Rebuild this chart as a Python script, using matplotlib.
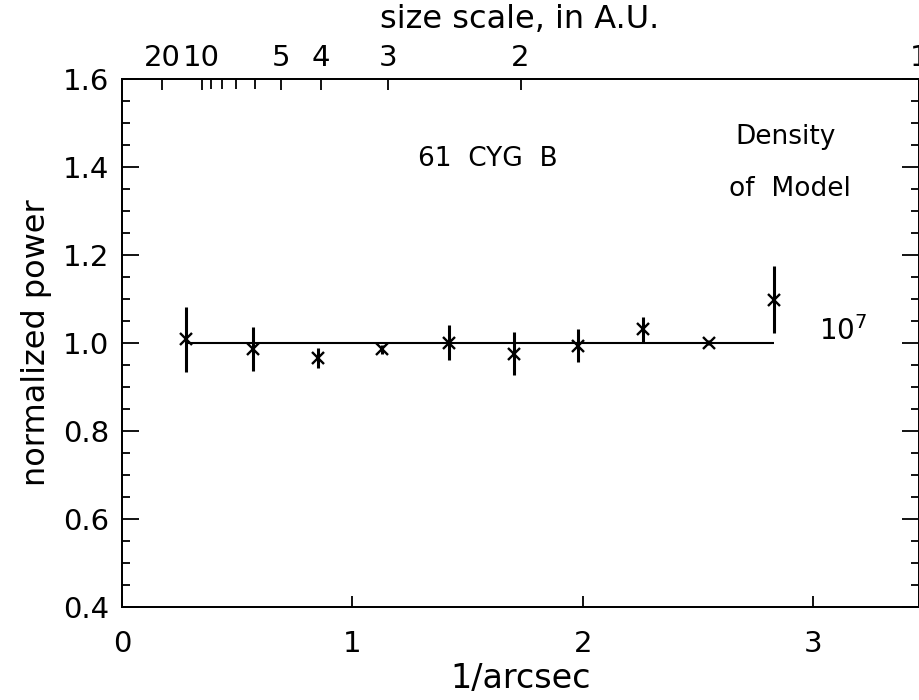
import numpy as np
import matplotlib
matplotlib.use("Agg")
import matplotlib.pyplot as plt
from matplotlib.ticker import MultipleLocator, FixedLocator, NullFormatter

# spatial frequency (1/arcsec) and normalized power with errors
freq = [0.28, 0.57, 0.85, 1.13, 1.42, 1.70, 1.98, 2.26, 2.55, 2.83]
power = [1.007, 0.985, 0.965, 0.985, 1.000, 0.975, 0.993, 1.030, 1.000, 1.097]
power_err = [0.074, 0.050, 0.022, 0.010, 0.040, 0.048, 0.038, 0.028, 0.005, 0.076]

model_level = 1.0
dist_pc = 3.46  # 61 Cyg distance, size [AU] = dist / freq
size_major = [20, 10, 5, 4, 3, 2, 1]
size_minor = [9, 8, 7, 6]

plt.rcParams['font.family'] = 'DejaVu Sans'

fig = plt.figure(figsize=(9.2, 7.0), dpi=100)
ax = fig.add_axes([122 / 920, 1 - 606.5 / 700, 797 / 920, (606.5 - 78.5) / 700])

ax.hlines(model_level, freq[0], freq[-1], color='black', lw=1.5)
ax.errorbar(freq, power, yerr=power_err, fmt='x', color='black',
            ms=9, mew=1.7, elinewidth=2.2, capsize=0)

ax.set_xlim(0, dist_pc)
ax.set_ylim(0.4, 1.6)
ax.set_xticks([0, 1, 2, 3])
ax.yaxis.set_major_locator(MultipleLocator(0.2))
ax.yaxis.set_minor_locator(MultipleLocator(0.05))
ax.yaxis.set_major_formatter(matplotlib.ticker.FormatStrFormatter('%.1f'))
ax.tick_params(axis='y', which='both', direction='in', left=True, right=True,
               labelsize=21, pad=9, width=1.3)
ax.tick_params(axis='y', which='major', length=12)
ax.tick_params(axis='y', which='minor', length=6)
ax.tick_params(axis='x', which='both', direction='in', top=False,
               labelsize=21, pad=17, length=8, width=1.3)
for s in ax.spines.values():
    s.set_linewidth(1.3)

ax.set_xlabel('1/arcsec', fontsize=24, labelpad=3)
ax.set_ylabel('normalized power', fontsize=23, labelpad=8)

# top axis: size scale in AU
top = ax.twiny()
top.set_xlim(ax.get_xlim())
top.xaxis.set_major_locator(FixedLocator([dist_pc / s for s in size_major]))
top.set_xticklabels([str(s) for s in size_major])
top.xaxis.set_minor_locator(FixedLocator([dist_pc / s for s in size_minor]))
top.xaxis.set_minor_formatter(NullFormatter())
top.tick_params(axis='x', which='both', direction='in', labelsize=21, pad=5, width=1.3)
top.tick_params(axis='x', which='major', length=8)
top.tick_params(axis='x', which='minor', length=7)
for s in top.spines.values():
    s.set_linewidth(1.3)
fig.text(0.565, 1 - 20 / 700, 'size scale, in A.U.', fontsize=23,
         ha='center', va='center')

ax.text(1.59, 1.418, '61  CYG  B', fontsize=19, ha='center', va='center')
ax.text(2.88, 1.466, 'Density', fontsize=19, ha='center', va='center')
ax.text(2.90, 1.35, 'of  Model', fontsize=19, ha='center', va='center')
ax.text(3.13, 1.025, r'10$^7$', fontsize=20, ha='center', va='center')

fig.savefig('out.png', dpi=100)
